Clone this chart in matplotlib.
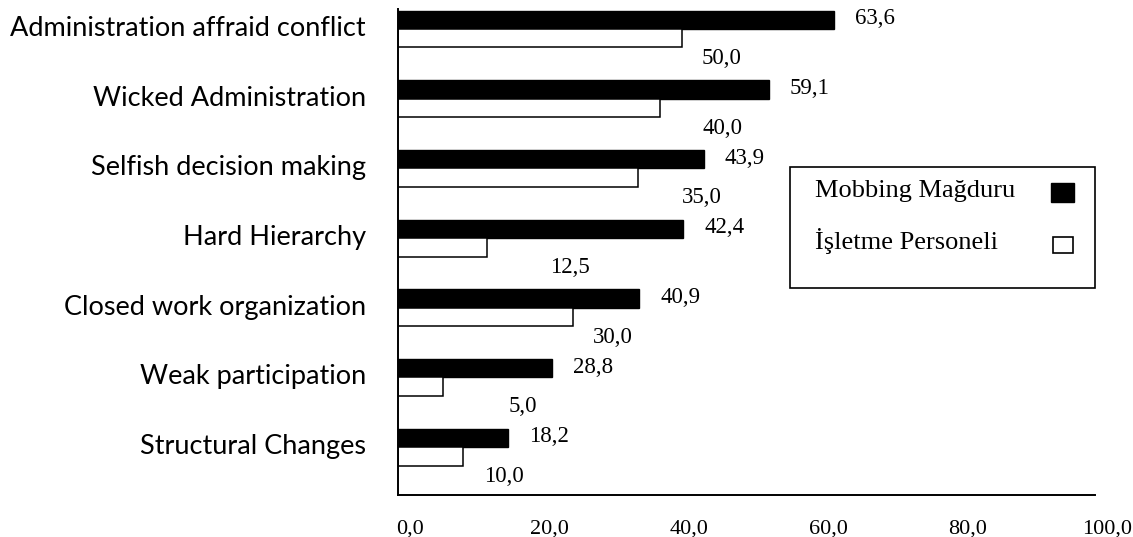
import numpy as np
import matplotlib
matplotlib.use('Agg')
import matplotlib.pyplot as plt
import matplotlib.transforms as mtransforms

categories = ["Administration affraid conflict", "Wicked Administration",
              "Selfish decision making", "Hard Hierarchy",
              "Closed work organization", "Weak participation",
              "Structural Changes"]

# printed values
victim_vals = [63.6, 59.1, 43.9, 42.4, 40.9, 28.8, 18.2]
staff_vals = [50.0, 40.0, 35.0, 12.5, 30.0, 5.0, 10.0]

# bar lengths as drawn against the 0-100 axis
victim_len = [62.6, 53.2, 43.9, 40.9, 34.6, 22.1, 15.8]
staff_len = [40.7, 37.6, 34.4, 12.8, 25.1, 6.5, 9.3]

xticks = [0, 20, 40, 60, 80, 100]
legend_labels = ["Mobbing Mağduru", "İşletme Personeli"]

W, H = 1133, 537
serif = "Liberation Serif"

fig = plt.figure(figsize=(W / 100, H / 100), dpi=100)
ax = fig.add_axes([398 / W, 1 - 495 / H, (1095 - 398) / W, (495 - 9) / H])

y = np.arange(len(categories))
h = 0.265
ax.barh(y - h / 2, victim_len, height=h, color='black', edgecolor='black', linewidth=1.0)
ax.barh(y + h / 2, staff_len, height=h, color='white', edgecolor='black', linewidth=1.1)

ax.set_xlim(0, 100)
ax.set_ylim(6.686, -0.287)

# value labels
staff_dx = [20, 42, 44, 63, 20, 65, 21]
for i in range(len(categories)):
    ax.annotate(f"{victim_vals[i]:.1f}".replace('.', ','), (victim_len[i], y[i] - h / 2),
                xytext=(21, 1), textcoords='offset pixels', ha='left', va='center',
                fontfamily=serif, fontsize=16.5)
    ax.annotate(f"{staff_vals[i]:.1f}".replace('.', ','), (staff_len[i], y[i] + h),
                xytext=(staff_dx[i], -11), textcoords='offset pixels', ha='left', va='center',
                fontfamily=serif, fontsize=16.5)

ax.set_xticks(xticks)
ax.set_xticklabels([f"{t:.1f}".replace('.', ',') for t in xticks], fontfamily=serif, fontsize=16)
ax.set_yticks(y)
ax.set_yticklabels(categories, fontfamily='Lato', fontsize=19.5)
ax.tick_params(axis='x', length=0, pad=18)
ax.tick_params(axis='y', length=0, pad=23)

# nudge tick labels like the original
shift_x = mtransforms.ScaledTranslation(12 / 100, 0, fig.dpi_scale_trans)
for lbl in ax.get_xticklabels():
    lbl.set_transform(lbl.get_transform() + shift_x)
shift_y = mtransforms.ScaledTranslation(0, 3 / 100, fig.dpi_scale_trans)
for lbl in ax.get_yticklabels():
    lbl.set_transform(lbl.get_transform() + shift_y)

for s in ['top', 'right']:
    ax.spines[s].set_visible(False)
for s in ['left', 'bottom']:
    ax.spines[s].set_linewidth(1.4)

# legend box
def fx(px):
    return px / W

def fy(py):
    return 1 - py / H

fig.add_artist(plt.Rectangle((fx(790), fy(288)), fx(1095) - fx(790), fy(167) - fy(288),
                             transform=fig.transFigure, fill=False, edgecolor='black', linewidth=1.2))
fig.text(fx(815), fy(191), legend_labels[0], fontfamily=serif, fontsize=19, va='center', ha='left')
fig.text(fx(815), fy(241), legend_labels[1], fontfamily=serif, fontsize=19, va='center', ha='left')
fig.add_artist(plt.Rectangle((fx(1051), fy(202)), fx(1074) - fx(1051), fy(183) - fy(202),
                             transform=fig.transFigure, facecolor='black', edgecolor='black', linewidth=1))
fig.add_artist(plt.Rectangle((fx(1053), fy(253)), fx(1073) - fx(1053), fy(237) - fy(253),
                             transform=fig.transFigure, facecolor='white', edgecolor='black', linewidth=1.2))

fig.savefig('out.png', dpi=100)
